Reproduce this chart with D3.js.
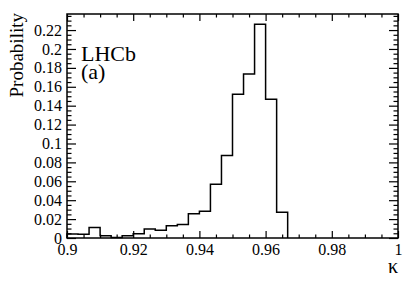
<!DOCTYPE html>
<html>
<head>
<meta charset="utf-8">
<script src="https://cdn.jsdelivr.net/npm/d3@7"></script>
<style>
  body { margin: 0; background: #fff; }
  svg { display: block; }
</style>
</head>
<body>
<div id="histChart"></div>
<script>
// kappa histogram, bins of width 1/300 starting at 0.9
const binStart = 0.9
const binWidth = 1 / 300
const probs = [0.0042, 0.004, 0.011, 0.0025, 0.0005, 0.0025, 0.0045, 0.0095, 0.0082, 0.013,
               0.0142, 0.0257, 0.0283, 0.0568, 0.0872, 0.152, 0.1735, 0.2262, 0.1468, 0.0272]

const xTicks = [0.9, 0.92, 0.94, 0.96, 0.98, 1]
const xTickLabels = ["0.9", "0.92", "0.94", "0.96", "0.98", "1"]
const yTicks = [0, 0.02, 0.04, 0.06, 0.08, 0.1, 0.12, 0.14, 0.16, 0.18, 0.2, 0.22]
const yTickLabels = ["0", "0.02", "0.04", "0.06", "0.08", "0.1", "0.12", "0.14", "0.16", "0.18", "0.2", "0.22"]

const serif = "'Liberation Serif', 'Times New Roman', Times, 'DejaVu Serif', serif"

function drawChart() {

	var margin = {top: 14, right: 21, bottom: 46, left: 67},
	w = 419 - margin.left - margin.right,
	h = 284 - margin.top - margin.bottom;

	var svg = d3.select("#histChart")
				.append("svg")
				.attr("width", w + margin.left + margin.right)
				.attr("height", h + margin.top + margin.bottom)
				.append("g")
				.attr("transform", "translate(" + margin.left + "," + margin.top + ")");

	var xScale = d3.scaleLinear().domain([0.9, 1.0]).range([0, w])
	var yScale = d3.scaleLinear().domain([0, 0.237]).range([h, 0])

	var xMinor = d3.range(0.9, 1.0001, 0.005).filter(function(v){ return Math.abs(Math.round(v * 50) - v * 50) > 1e-6 })
	var yMinor = d3.range(0, 0.2371, 0.005).filter(function(v){ return Math.abs(Math.round(v * 50) - v * 50) > 1e-6 })

	// bottom + top axes (ticks point inward)
	var xAxis = d3.axisBottom(xScale).tickValues(xTicks).tickSize(-7).tickPadding(6)
				  .tickFormat(function(d, i){ return xTickLabels[i] })
	var gX = svg.append("g").attr("class", "x axis")
				.attr("transform", "translate(0," + h + ")")
				.call(xAxis)
	svg.append("g").attr("transform", "translate(0," + h + ")")
	   .call(d3.axisBottom(xScale).tickValues(xMinor).tickSize(-3.5).tickFormat(""))
	svg.append("g")
	   .call(d3.axisTop(xScale).tickValues(xTicks).tickSize(-7).tickFormat(""))
	svg.append("g")
	   .call(d3.axisTop(xScale).tickValues(xMinor).tickSize(-3.5).tickFormat(""))

	// left + right axes
	var yAxis = d3.axisLeft(yScale).tickValues(yTicks).tickSize(-9).tickPadding(5)
				  .tickFormat(function(d, i){ return yTickLabels[i] })
	var gY = svg.append("g").attr("class", "y axis").call(yAxis)
	svg.append("g").call(d3.axisLeft(yScale).tickValues(yMinor).tickSize(-4.5).tickFormat(""))
	svg.append("g").attr("transform", "translate(" + w + ",0)")
	   .call(d3.axisRight(yScale).tickValues(yTicks).tickSize(-9).tickFormat(""))
	svg.append("g").attr("transform", "translate(" + w + ",0)")
	   .call(d3.axisRight(yScale).tickValues(yMinor).tickSize(-4.5).tickFormat(""))

	svg.selectAll(".domain").remove()
	svg.selectAll("g").attr("font-family", serif)
	svg.selectAll(".tick line").attr("stroke", "#000").attr("stroke-width", 1.2)
	svg.selectAll(".tick text").attr("font-size", 16).attr("font-family", serif).attr("fill", "#000")

	// histogram as a step line
	var pts = [{x: binStart, y: 0}]
	for (var i = 0; i < probs.length; i++) {
		pts.push({x: binStart + i * binWidth, y: probs[i]})
	}
	pts.push({x: binStart + probs.length * binWidth, y: 0})

	var line = d3.line()
				 .x(function(d){ return xScale(d.x) })
				 .y(function(d){ return yScale(d.y) })
				 .curve(d3.curveStepAfter)

	svg.append("path")
	   .datum(pts)
	   .attr("d", line)
	   .attr("fill", "none")
	   .attr("stroke", "#000")
	   .attr("stroke-width", 1.5)

	// frame
	svg.append("rect")
	   .attr("width", w)
	   .attr("height", h)
	   .attr("fill", "none")
	   .attr("stroke", "#000")
	   .attr("stroke-width", 1.5)

	// titles
	svg.append("text")
	   .attr("transform", "translate(" + (-margin.left + 23) + ",-1) rotate(-90)")
	   .attr("text-anchor", "end")
	   .attr("font-family", serif)
	   .attr("font-size", 19)
	   .text("Probability")

	svg.append("text")
	   .attr("x", w)
	   .attr("y", h + 35)
	   .attr("text-anchor", "end")
	   .attr("font-family", serif)
	   .attr("font-size", 20)
	   .text("κ")

	svg.append("text")
	   .attr("x", 14)
	   .attr("y", 47)
	   .attr("font-family", serif)
	   .attr("font-size", 22)
	   .text("LHCb")

	svg.append("text")
	   .attr("x", 14)
	   .attr("y", 65)
	   .attr("font-family", serif)
	   .attr("font-size", 22)
	   .text("(a)")
}

drawChart();
</script>
</body>
</html>
